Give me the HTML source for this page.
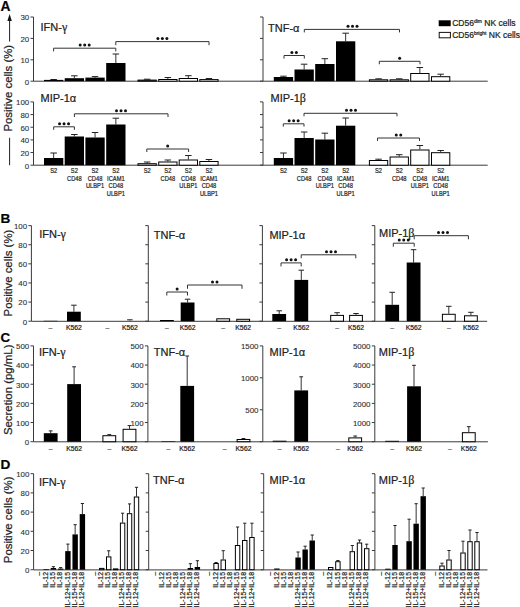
<!DOCTYPE html>
<html><head><meta charset="utf-8"><style>
html,body{margin:0;padding:0;background:#fff;}
body{width:520px;height:607px;overflow:hidden;}
svg{display:block;font-family:"Liberation Sans",sans-serif;}
text{stroke:#222;stroke-width:0.22px;}
</style></head><body>
<svg width="520" height="607" viewBox="0 0 520 607">
<rect width="520" height="607" fill="#fff"/>
<text x="0.40" y="10.50" font-size="13.8" text-anchor="start" fill="#000" font-weight="bold" >A</text>
<path d="M9.6 14 L7.4 21 L11.8 21 Z" fill="#111"/>
<line x1="9.60" y1="20.00" x2="9.60" y2="41.50" stroke="#222" stroke-width="1"/>
<line x1="9.60" y1="137.80" x2="9.60" y2="165.20" stroke="#222" stroke-width="1"/>
<text transform="translate(12.0,131.6) rotate(-90)" font-size="11.4" fill="#222">Positive cells (%)</text>
<line x1="33.50" y1="17.00" x2="33.50" y2="81.20" stroke="#3a3a3a" stroke-width="1"/>
<line x1="30.50" y1="17.00" x2="33.50" y2="17.00" stroke="#3a3a3a" stroke-width="1"/>
<text x="29.20" y="20.30" font-size="7.9" text-anchor="end" fill="#333" font-weight="normal" style="stroke-width:0.1px">30</text>
<line x1="30.50" y1="38.40" x2="33.50" y2="38.40" stroke="#3a3a3a" stroke-width="1"/>
<text x="29.20" y="41.70" font-size="7.9" text-anchor="end" fill="#333" font-weight="normal" style="stroke-width:0.1px">20</text>
<line x1="30.50" y1="59.80" x2="33.50" y2="59.80" stroke="#3a3a3a" stroke-width="1"/>
<text x="29.20" y="63.10" font-size="7.9" text-anchor="end" fill="#333" font-weight="normal" style="stroke-width:0.1px">10</text>
<line x1="30.50" y1="81.20" x2="33.50" y2="81.20" stroke="#3a3a3a" stroke-width="1"/>
<text x="29.20" y="84.50" font-size="7.9" text-anchor="end" fill="#333" font-weight="normal" style="stroke-width:0.1px">0</text>
<line x1="33.50" y1="101.90" x2="33.50" y2="165.20" stroke="#3a3a3a" stroke-width="1"/>
<line x1="30.50" y1="101.90" x2="33.50" y2="101.90" stroke="#3a3a3a" stroke-width="1"/>
<text x="29.20" y="105.20" font-size="7.9" text-anchor="end" fill="#333" font-weight="normal" style="stroke-width:0.1px">100</text>
<line x1="30.50" y1="114.56" x2="33.50" y2="114.56" stroke="#3a3a3a" stroke-width="1"/>
<text x="29.20" y="117.86" font-size="7.9" text-anchor="end" fill="#333" font-weight="normal" style="stroke-width:0.1px">80</text>
<line x1="30.50" y1="127.22" x2="33.50" y2="127.22" stroke="#3a3a3a" stroke-width="1"/>
<text x="29.20" y="130.52" font-size="7.9" text-anchor="end" fill="#333" font-weight="normal" style="stroke-width:0.1px">60</text>
<line x1="30.50" y1="139.88" x2="33.50" y2="139.88" stroke="#3a3a3a" stroke-width="1"/>
<text x="29.20" y="143.18" font-size="7.9" text-anchor="end" fill="#333" font-weight="normal" style="stroke-width:0.1px">40</text>
<line x1="30.50" y1="152.54" x2="33.50" y2="152.54" stroke="#3a3a3a" stroke-width="1"/>
<text x="29.20" y="155.84" font-size="7.9" text-anchor="end" fill="#333" font-weight="normal" style="stroke-width:0.1px">20</text>
<line x1="30.50" y1="165.20" x2="33.50" y2="165.20" stroke="#3a3a3a" stroke-width="1"/>
<text x="29.20" y="168.50" font-size="7.9" text-anchor="end" fill="#333" font-weight="normal" style="stroke-width:0.1px">0</text>
<line x1="263.00" y1="17.00" x2="263.00" y2="81.20" stroke="#3a3a3a" stroke-width="1"/>
<line x1="260.00" y1="17.00" x2="263.00" y2="17.00" stroke="#3a3a3a" stroke-width="1"/>
<line x1="260.00" y1="38.40" x2="263.00" y2="38.40" stroke="#3a3a3a" stroke-width="1"/>
<line x1="260.00" y1="59.80" x2="263.00" y2="59.80" stroke="#3a3a3a" stroke-width="1"/>
<line x1="260.00" y1="81.20" x2="263.00" y2="81.20" stroke="#3a3a3a" stroke-width="1"/>
<line x1="263.00" y1="101.90" x2="263.00" y2="165.20" stroke="#3a3a3a" stroke-width="1"/>
<line x1="260.00" y1="101.90" x2="263.00" y2="101.90" stroke="#3a3a3a" stroke-width="1"/>
<line x1="260.00" y1="114.56" x2="263.00" y2="114.56" stroke="#3a3a3a" stroke-width="1"/>
<line x1="260.00" y1="127.22" x2="263.00" y2="127.22" stroke="#3a3a3a" stroke-width="1"/>
<line x1="260.00" y1="139.88" x2="263.00" y2="139.88" stroke="#3a3a3a" stroke-width="1"/>
<line x1="260.00" y1="152.54" x2="263.00" y2="152.54" stroke="#3a3a3a" stroke-width="1"/>
<line x1="260.00" y1="165.20" x2="263.00" y2="165.20" stroke="#3a3a3a" stroke-width="1"/>
<line x1="33.50" y1="81.20" x2="487.70" y2="81.20" stroke="#3a3a3a" stroke-width="1"/>
<line x1="33.50" y1="165.20" x2="487.70" y2="165.20" stroke="#3a3a3a" stroke-width="1"/>
<text x="40.50" y="31.20" font-size="11" text-anchor="start" fill="#222" font-weight="normal" >IFN-<tspan font-family="Liberation Serif" font-size="12">γ</tspan></text>
<line x1="53.65" y1="79.90" x2="53.65" y2="79.50" stroke="#333" stroke-width="1"/>
<line x1="50.40" y1="79.50" x2="56.90" y2="79.50" stroke="#222" stroke-width="1"/>
<rect x="44.00" y="79.90" width="19.30" height="1.30" fill="#000"/>
<line x1="74.35" y1="78.20" x2="74.35" y2="75.80" stroke="#333" stroke-width="1"/>
<line x1="71.10" y1="75.80" x2="77.60" y2="75.80" stroke="#222" stroke-width="1"/>
<rect x="64.70" y="78.20" width="19.30" height="3.00" fill="#000"/>
<line x1="95.05" y1="77.60" x2="95.05" y2="76.60" stroke="#333" stroke-width="1"/>
<line x1="91.80" y1="76.60" x2="98.30" y2="76.60" stroke="#222" stroke-width="1"/>
<rect x="85.40" y="77.60" width="19.30" height="3.60" fill="#000"/>
<line x1="115.85" y1="63.00" x2="115.85" y2="54.00" stroke="#333" stroke-width="1"/>
<line x1="112.60" y1="54.00" x2="119.10" y2="54.00" stroke="#222" stroke-width="1"/>
<rect x="106.20" y="63.00" width="19.30" height="18.20" fill="#000"/>
<line x1="147.15" y1="79.60" x2="147.15" y2="79.20" stroke="#333" stroke-width="1"/>
<line x1="143.90" y1="79.20" x2="150.40" y2="79.20" stroke="#222" stroke-width="1"/>
<rect x="138.00" y="80.10" width="18.30" height="1.10" fill="#fff" stroke="#000" stroke-width="1"/>
<line x1="167.85" y1="79.00" x2="167.85" y2="77.50" stroke="#333" stroke-width="1"/>
<line x1="164.60" y1="77.50" x2="171.10" y2="77.50" stroke="#222" stroke-width="1"/>
<rect x="158.70" y="79.50" width="18.30" height="1.70" fill="#fff" stroke="#000" stroke-width="1"/>
<line x1="188.35" y1="78.00" x2="188.35" y2="75.70" stroke="#333" stroke-width="1"/>
<line x1="185.10" y1="75.70" x2="191.60" y2="75.70" stroke="#222" stroke-width="1"/>
<rect x="179.20" y="78.50" width="18.30" height="2.70" fill="#fff" stroke="#000" stroke-width="1"/>
<line x1="208.95" y1="79.10" x2="208.95" y2="78.50" stroke="#333" stroke-width="1"/>
<line x1="205.70" y1="78.50" x2="212.20" y2="78.50" stroke="#222" stroke-width="1"/>
<rect x="199.80" y="79.60" width="18.30" height="1.60" fill="#fff" stroke="#000" stroke-width="1"/>
<path d="M53.60 51.40V48.20H115.80V51.40" fill="none" stroke="#333" stroke-width="1"/>
<circle cx="80.20" cy="45.10" r="1.5" fill="#111"/>
<circle cx="84.70" cy="45.10" r="1.5" fill="#111"/>
<circle cx="89.20" cy="45.10" r="1.5" fill="#111"/>
<path d="M115.80 45.20V41.60H209.00V45.20" fill="none" stroke="#333" stroke-width="1"/>
<circle cx="157.90" cy="38.50" r="1.5" fill="#111"/>
<circle cx="162.40" cy="38.50" r="1.5" fill="#111"/>
<circle cx="166.90" cy="38.50" r="1.5" fill="#111"/>
<text x="268.00" y="31.60" font-size="11" text-anchor="start" fill="#222" font-weight="normal" >TNF-α</text>
<line x1="283.45" y1="77.00" x2="283.45" y2="76.20" stroke="#333" stroke-width="1"/>
<line x1="280.20" y1="76.20" x2="286.70" y2="76.20" stroke="#222" stroke-width="1"/>
<rect x="273.80" y="77.00" width="19.30" height="4.20" fill="#000"/>
<line x1="304.15" y1="69.50" x2="304.15" y2="64.20" stroke="#333" stroke-width="1"/>
<line x1="300.90" y1="64.20" x2="307.40" y2="64.20" stroke="#222" stroke-width="1"/>
<rect x="294.50" y="69.50" width="19.30" height="11.70" fill="#000"/>
<line x1="324.85" y1="64.00" x2="324.85" y2="58.70" stroke="#333" stroke-width="1"/>
<line x1="321.60" y1="58.70" x2="328.10" y2="58.70" stroke="#222" stroke-width="1"/>
<rect x="315.20" y="64.00" width="19.30" height="17.20" fill="#000"/>
<line x1="345.65" y1="41.30" x2="345.65" y2="33.20" stroke="#333" stroke-width="1"/>
<line x1="342.40" y1="33.20" x2="348.90" y2="33.20" stroke="#222" stroke-width="1"/>
<rect x="336.00" y="41.30" width="19.30" height="39.90" fill="#000"/>
<line x1="378.55" y1="79.30" x2="378.55" y2="78.80" stroke="#333" stroke-width="1"/>
<line x1="375.30" y1="78.80" x2="381.80" y2="78.80" stroke="#222" stroke-width="1"/>
<rect x="369.40" y="79.80" width="18.30" height="1.40" fill="#fff" stroke="#000" stroke-width="1"/>
<line x1="399.25" y1="79.30" x2="399.25" y2="78.80" stroke="#333" stroke-width="1"/>
<line x1="396.00" y1="78.80" x2="402.50" y2="78.80" stroke="#222" stroke-width="1"/>
<rect x="390.10" y="79.80" width="18.30" height="1.40" fill="#fff" stroke="#000" stroke-width="1"/>
<line x1="419.85" y1="73.00" x2="419.85" y2="67.50" stroke="#333" stroke-width="1"/>
<line x1="416.60" y1="67.50" x2="423.10" y2="67.50" stroke="#222" stroke-width="1"/>
<rect x="410.70" y="73.50" width="18.30" height="7.70" fill="#fff" stroke="#000" stroke-width="1"/>
<line x1="440.65" y1="76.20" x2="440.65" y2="74.20" stroke="#333" stroke-width="1"/>
<line x1="437.40" y1="74.20" x2="443.90" y2="74.20" stroke="#222" stroke-width="1"/>
<rect x="431.50" y="76.70" width="18.30" height="4.50" fill="#fff" stroke="#000" stroke-width="1"/>
<path d="M284.00 58.60V55.50H304.30V58.60" fill="none" stroke="#333" stroke-width="1"/>
<circle cx="291.90" cy="52.40" r="1.5" fill="#111"/>
<circle cx="296.40" cy="52.40" r="1.5" fill="#111"/>
<path d="M304.30 32.40V29.40H399.50V32.40" fill="none" stroke="#333" stroke-width="1"/>
<circle cx="348.00" cy="26.30" r="1.5" fill="#111"/>
<circle cx="352.50" cy="26.30" r="1.5" fill="#111"/>
<circle cx="357.00" cy="26.30" r="1.5" fill="#111"/>
<path d="M379.30 64.30V61.30H420.00V64.30" fill="none" stroke="#333" stroke-width="1"/>
<circle cx="399.65" cy="58.20" r="1.5" fill="#111"/>
<text x="40.50" y="101.60" font-size="11" text-anchor="start" fill="#222" font-weight="normal" >MIP-1α</text>
<line x1="53.65" y1="158.00" x2="53.65" y2="153.00" stroke="#333" stroke-width="1"/>
<line x1="50.40" y1="153.00" x2="56.90" y2="153.00" stroke="#222" stroke-width="1"/>
<rect x="44.00" y="158.00" width="19.30" height="7.20" fill="#000"/>
<line x1="74.35" y1="136.50" x2="74.35" y2="134.50" stroke="#333" stroke-width="1"/>
<line x1="71.10" y1="134.50" x2="77.60" y2="134.50" stroke="#222" stroke-width="1"/>
<rect x="64.70" y="136.50" width="19.30" height="28.70" fill="#000"/>
<line x1="95.05" y1="137.50" x2="95.05" y2="132.50" stroke="#333" stroke-width="1"/>
<line x1="91.80" y1="132.50" x2="98.30" y2="132.50" stroke="#222" stroke-width="1"/>
<rect x="85.40" y="137.50" width="19.30" height="27.70" fill="#000"/>
<line x1="115.85" y1="124.50" x2="115.85" y2="118.20" stroke="#333" stroke-width="1"/>
<line x1="112.60" y1="118.20" x2="119.10" y2="118.20" stroke="#222" stroke-width="1"/>
<rect x="106.20" y="124.50" width="19.30" height="40.70" fill="#000"/>
<line x1="147.15" y1="163.20" x2="147.15" y2="162.00" stroke="#333" stroke-width="1"/>
<line x1="143.90" y1="162.00" x2="150.40" y2="162.00" stroke="#222" stroke-width="1"/>
<rect x="138.00" y="163.70" width="18.30" height="1.50" fill="#fff" stroke="#000" stroke-width="1"/>
<line x1="167.85" y1="161.50" x2="167.85" y2="160.00" stroke="#333" stroke-width="1"/>
<line x1="164.60" y1="160.00" x2="171.10" y2="160.00" stroke="#222" stroke-width="1"/>
<rect x="158.70" y="162.00" width="18.30" height="3.20" fill="#fff" stroke="#000" stroke-width="1"/>
<line x1="188.35" y1="159.50" x2="188.35" y2="155.50" stroke="#333" stroke-width="1"/>
<line x1="185.10" y1="155.50" x2="191.60" y2="155.50" stroke="#222" stroke-width="1"/>
<rect x="179.20" y="160.00" width="18.30" height="5.20" fill="#fff" stroke="#000" stroke-width="1"/>
<line x1="208.95" y1="161.00" x2="208.95" y2="159.50" stroke="#333" stroke-width="1"/>
<line x1="205.70" y1="159.50" x2="212.20" y2="159.50" stroke="#222" stroke-width="1"/>
<rect x="199.80" y="161.50" width="18.30" height="3.70" fill="#fff" stroke="#000" stroke-width="1"/>
<path d="M53.70 129.80V126.80H74.40V129.80" fill="none" stroke="#333" stroke-width="1"/>
<circle cx="59.55" cy="123.70" r="1.5" fill="#111"/>
<circle cx="64.05" cy="123.70" r="1.5" fill="#111"/>
<circle cx="68.55" cy="123.70" r="1.5" fill="#111"/>
<path d="M74.40 117.00V113.80H168.00V117.00" fill="none" stroke="#333" stroke-width="1"/>
<circle cx="116.50" cy="110.70" r="1.5" fill="#111"/>
<circle cx="121.00" cy="110.70" r="1.5" fill="#111"/>
<circle cx="125.50" cy="110.70" r="1.5" fill="#111"/>
<path d="M146.80 152.00V149.00H188.60V152.00" fill="none" stroke="#333" stroke-width="1"/>
<circle cx="167.70" cy="145.90" r="1.5" fill="#111"/>
<text x="270.50" y="101.60" font-size="11" text-anchor="start" fill="#222" font-weight="normal" >MIP-1<tspan font-family="Liberation Serif" font-size="12">β</tspan></text>
<line x1="283.45" y1="158.00" x2="283.45" y2="153.00" stroke="#333" stroke-width="1"/>
<line x1="280.20" y1="153.00" x2="286.70" y2="153.00" stroke="#222" stroke-width="1"/>
<rect x="273.80" y="158.00" width="19.30" height="7.20" fill="#000"/>
<line x1="304.15" y1="138.00" x2="304.15" y2="132.00" stroke="#333" stroke-width="1"/>
<line x1="300.90" y1="132.00" x2="307.40" y2="132.00" stroke="#222" stroke-width="1"/>
<rect x="294.50" y="138.00" width="19.30" height="27.20" fill="#000"/>
<line x1="324.85" y1="139.50" x2="324.85" y2="133.20" stroke="#333" stroke-width="1"/>
<line x1="321.60" y1="133.20" x2="328.10" y2="133.20" stroke="#222" stroke-width="1"/>
<rect x="315.20" y="139.50" width="19.30" height="25.70" fill="#000"/>
<line x1="345.65" y1="125.70" x2="345.65" y2="118.00" stroke="#333" stroke-width="1"/>
<line x1="342.40" y1="118.00" x2="348.90" y2="118.00" stroke="#222" stroke-width="1"/>
<rect x="336.00" y="125.70" width="19.30" height="39.50" fill="#000"/>
<line x1="378.55" y1="160.00" x2="378.55" y2="159.20" stroke="#333" stroke-width="1"/>
<line x1="375.30" y1="159.20" x2="381.80" y2="159.20" stroke="#222" stroke-width="1"/>
<rect x="369.40" y="160.50" width="18.30" height="4.70" fill="#fff" stroke="#000" stroke-width="1"/>
<line x1="399.25" y1="156.50" x2="399.25" y2="154.70" stroke="#333" stroke-width="1"/>
<line x1="396.00" y1="154.70" x2="402.50" y2="154.70" stroke="#222" stroke-width="1"/>
<rect x="390.10" y="157.00" width="18.30" height="8.20" fill="#fff" stroke="#000" stroke-width="1"/>
<line x1="419.85" y1="149.50" x2="419.85" y2="145.50" stroke="#333" stroke-width="1"/>
<line x1="416.60" y1="145.50" x2="423.10" y2="145.50" stroke="#222" stroke-width="1"/>
<rect x="410.70" y="150.00" width="18.30" height="15.20" fill="#fff" stroke="#000" stroke-width="1"/>
<line x1="440.65" y1="152.20" x2="440.65" y2="150.50" stroke="#333" stroke-width="1"/>
<line x1="437.40" y1="150.50" x2="443.90" y2="150.50" stroke="#222" stroke-width="1"/>
<rect x="431.50" y="152.70" width="18.30" height="12.50" fill="#fff" stroke="#000" stroke-width="1"/>
<path d="M283.30 126.60V123.80H304.00V126.60" fill="none" stroke="#333" stroke-width="1"/>
<circle cx="289.15" cy="120.70" r="1.5" fill="#111"/>
<circle cx="293.65" cy="120.70" r="1.5" fill="#111"/>
<circle cx="298.15" cy="120.70" r="1.5" fill="#111"/>
<path d="M304.00 116.30V113.30H397.00V116.30" fill="none" stroke="#333" stroke-width="1"/>
<circle cx="346.50" cy="110.20" r="1.5" fill="#111"/>
<circle cx="351.00" cy="110.20" r="1.5" fill="#111"/>
<circle cx="355.50" cy="110.20" r="1.5" fill="#111"/>
<path d="M377.50 140.90V138.00H419.50V140.90" fill="none" stroke="#333" stroke-width="1"/>
<circle cx="396.25" cy="134.90" r="1.5" fill="#111"/>
<circle cx="400.75" cy="134.90" r="1.5" fill="#111"/>
<text transform="translate(53.65,172.70) scale(0.83,1)" font-size="6.9" text-anchor="middle" fill="#222">S2</text>
<text transform="translate(74.35,172.70) scale(0.83,1)" font-size="6.9" text-anchor="middle" fill="#222">S2</text>
<text transform="translate(74.35,180.50) scale(0.83,1)" font-size="6.9" text-anchor="middle" fill="#222">CD48</text>
<text transform="translate(95.05,172.70) scale(0.83,1)" font-size="6.9" text-anchor="middle" fill="#222">S2</text>
<text transform="translate(95.05,180.50) scale(0.83,1)" font-size="6.9" text-anchor="middle" fill="#222">CD48</text>
<text transform="translate(95.05,188.30) scale(0.83,1)" font-size="6.9" text-anchor="middle" fill="#222">ULBP1</text>
<text transform="translate(115.85,172.70) scale(0.83,1)" font-size="6.9" text-anchor="middle" fill="#222">S2</text>
<text transform="translate(115.85,180.50) scale(0.83,1)" font-size="6.9" text-anchor="middle" fill="#222">ICAM1</text>
<text transform="translate(115.85,188.30) scale(0.83,1)" font-size="6.9" text-anchor="middle" fill="#222">CD48</text>
<text transform="translate(115.85,196.10) scale(0.83,1)" font-size="6.9" text-anchor="middle" fill="#222">ULBP1</text>
<text transform="translate(147.15,172.70) scale(0.83,1)" font-size="6.9" text-anchor="middle" fill="#222">S2</text>
<text transform="translate(167.85,172.70) scale(0.83,1)" font-size="6.9" text-anchor="middle" fill="#222">S2</text>
<text transform="translate(167.85,180.50) scale(0.83,1)" font-size="6.9" text-anchor="middle" fill="#222">CD48</text>
<text transform="translate(188.35,172.70) scale(0.83,1)" font-size="6.9" text-anchor="middle" fill="#222">S2</text>
<text transform="translate(188.35,180.50) scale(0.83,1)" font-size="6.9" text-anchor="middle" fill="#222">CD48</text>
<text transform="translate(188.35,188.30) scale(0.83,1)" font-size="6.9" text-anchor="middle" fill="#222">ULBP1</text>
<text transform="translate(208.95,172.70) scale(0.83,1)" font-size="6.9" text-anchor="middle" fill="#222">S2</text>
<text transform="translate(208.95,180.50) scale(0.83,1)" font-size="6.9" text-anchor="middle" fill="#222">ICAM1</text>
<text transform="translate(208.95,188.30) scale(0.83,1)" font-size="6.9" text-anchor="middle" fill="#222">CD48</text>
<text transform="translate(208.95,196.10) scale(0.83,1)" font-size="6.9" text-anchor="middle" fill="#222">ULBP1</text>
<text transform="translate(283.45,172.70) scale(0.83,1)" font-size="6.9" text-anchor="middle" fill="#222">S2</text>
<text transform="translate(304.15,172.70) scale(0.83,1)" font-size="6.9" text-anchor="middle" fill="#222">S2</text>
<text transform="translate(304.15,180.50) scale(0.83,1)" font-size="6.9" text-anchor="middle" fill="#222">CD48</text>
<text transform="translate(324.85,172.70) scale(0.83,1)" font-size="6.9" text-anchor="middle" fill="#222">S2</text>
<text transform="translate(324.85,180.50) scale(0.83,1)" font-size="6.9" text-anchor="middle" fill="#222">CD48</text>
<text transform="translate(324.85,188.30) scale(0.83,1)" font-size="6.9" text-anchor="middle" fill="#222">ULBP1</text>
<text transform="translate(345.65,172.70) scale(0.83,1)" font-size="6.9" text-anchor="middle" fill="#222">S2</text>
<text transform="translate(345.65,180.50) scale(0.83,1)" font-size="6.9" text-anchor="middle" fill="#222">ICAM1</text>
<text transform="translate(345.65,188.30) scale(0.83,1)" font-size="6.9" text-anchor="middle" fill="#222">CD48</text>
<text transform="translate(345.65,196.10) scale(0.83,1)" font-size="6.9" text-anchor="middle" fill="#222">ULBP1</text>
<text transform="translate(378.55,172.70) scale(0.83,1)" font-size="6.9" text-anchor="middle" fill="#222">S2</text>
<text transform="translate(399.25,172.70) scale(0.83,1)" font-size="6.9" text-anchor="middle" fill="#222">S2</text>
<text transform="translate(399.25,180.50) scale(0.83,1)" font-size="6.9" text-anchor="middle" fill="#222">CD48</text>
<text transform="translate(419.85,172.70) scale(0.83,1)" font-size="6.9" text-anchor="middle" fill="#222">S2</text>
<text transform="translate(419.85,180.50) scale(0.83,1)" font-size="6.9" text-anchor="middle" fill="#222">CD48</text>
<text transform="translate(419.85,188.30) scale(0.83,1)" font-size="6.9" text-anchor="middle" fill="#222">ULBP1</text>
<text transform="translate(440.65,172.70) scale(0.83,1)" font-size="6.9" text-anchor="middle" fill="#222">S2</text>
<text transform="translate(440.65,180.50) scale(0.83,1)" font-size="6.9" text-anchor="middle" fill="#222">ICAM1</text>
<text transform="translate(440.65,188.30) scale(0.83,1)" font-size="6.9" text-anchor="middle" fill="#222">CD48</text>
<text transform="translate(440.65,196.10) scale(0.83,1)" font-size="6.9" text-anchor="middle" fill="#222">ULBP1</text>
<rect x="438.7" y="20.3" width="12" height="5.9" fill="#000"/>
<rect x="439.2" y="32.4" width="11.2" height="5.4" fill="#fff" stroke="#111" stroke-width="1"/>
<text x="452.20" y="26.30" font-size="8.5" text-anchor="start" fill="#222" font-weight="normal" >CD56<tspan font-size="5" dy="-3.3">dim</tspan><tspan dy="3.3"> NK cells</tspan></text>
<text x="452.20" y="38.30" font-size="8.5" text-anchor="start" fill="#222" font-weight="normal" >CD56<tspan font-size="5" dy="-3.3">bright</tspan><tspan dy="3.3"> NK cells</tspan></text>
<text x="0.60" y="222.60" font-size="13.6" text-anchor="start" fill="#000" font-weight="bold" >B</text>
<text transform="translate(12.0,316.4) rotate(-90)" font-size="11.4" fill="#222">Positive cells (%)</text>
<line x1="31.40" y1="225.60" x2="31.40" y2="321.20" stroke="#3a3a3a" stroke-width="1"/>
<line x1="28.40" y1="225.60" x2="31.40" y2="225.60" stroke="#3a3a3a" stroke-width="1"/>
<text x="27.10" y="228.90" font-size="7.9" text-anchor="end" fill="#333" font-weight="normal" style="stroke-width:0.1px">100</text>
<line x1="28.40" y1="244.72" x2="31.40" y2="244.72" stroke="#3a3a3a" stroke-width="1"/>
<text x="27.10" y="248.02" font-size="7.9" text-anchor="end" fill="#333" font-weight="normal" style="stroke-width:0.1px">80</text>
<line x1="28.40" y1="263.84" x2="31.40" y2="263.84" stroke="#3a3a3a" stroke-width="1"/>
<text x="27.10" y="267.14" font-size="7.9" text-anchor="end" fill="#333" font-weight="normal" style="stroke-width:0.1px">60</text>
<line x1="28.40" y1="282.96" x2="31.40" y2="282.96" stroke="#3a3a3a" stroke-width="1"/>
<text x="27.10" y="286.26" font-size="7.9" text-anchor="end" fill="#333" font-weight="normal" style="stroke-width:0.1px">40</text>
<line x1="28.40" y1="302.08" x2="31.40" y2="302.08" stroke="#3a3a3a" stroke-width="1"/>
<text x="27.10" y="305.38" font-size="7.9" text-anchor="end" fill="#333" font-weight="normal" style="stroke-width:0.1px">20</text>
<line x1="28.40" y1="321.20" x2="31.40" y2="321.20" stroke="#3a3a3a" stroke-width="1"/>
<text x="27.10" y="324.50" font-size="7.9" text-anchor="end" fill="#333" font-weight="normal" style="stroke-width:0.1px">0</text>
<line x1="148.30" y1="225.60" x2="148.30" y2="321.20" stroke="#3a3a3a" stroke-width="1"/>
<line x1="145.30" y1="225.60" x2="148.30" y2="225.60" stroke="#3a3a3a" stroke-width="1"/>
<line x1="145.30" y1="244.72" x2="148.30" y2="244.72" stroke="#3a3a3a" stroke-width="1"/>
<line x1="145.30" y1="263.84" x2="148.30" y2="263.84" stroke="#3a3a3a" stroke-width="1"/>
<line x1="145.30" y1="282.96" x2="148.30" y2="282.96" stroke="#3a3a3a" stroke-width="1"/>
<line x1="145.30" y1="302.08" x2="148.30" y2="302.08" stroke="#3a3a3a" stroke-width="1"/>
<line x1="145.30" y1="321.20" x2="148.30" y2="321.20" stroke="#3a3a3a" stroke-width="1"/>
<line x1="262.40" y1="225.60" x2="262.40" y2="321.20" stroke="#3a3a3a" stroke-width="1"/>
<line x1="259.40" y1="225.60" x2="262.40" y2="225.60" stroke="#3a3a3a" stroke-width="1"/>
<line x1="259.40" y1="244.72" x2="262.40" y2="244.72" stroke="#3a3a3a" stroke-width="1"/>
<line x1="259.40" y1="263.84" x2="262.40" y2="263.84" stroke="#3a3a3a" stroke-width="1"/>
<line x1="259.40" y1="282.96" x2="262.40" y2="282.96" stroke="#3a3a3a" stroke-width="1"/>
<line x1="259.40" y1="302.08" x2="262.40" y2="302.08" stroke="#3a3a3a" stroke-width="1"/>
<line x1="259.40" y1="321.20" x2="262.40" y2="321.20" stroke="#3a3a3a" stroke-width="1"/>
<line x1="374.80" y1="225.60" x2="374.80" y2="321.20" stroke="#3a3a3a" stroke-width="1"/>
<line x1="371.80" y1="225.60" x2="374.80" y2="225.60" stroke="#3a3a3a" stroke-width="1"/>
<line x1="371.80" y1="244.72" x2="374.80" y2="244.72" stroke="#3a3a3a" stroke-width="1"/>
<line x1="371.80" y1="263.84" x2="374.80" y2="263.84" stroke="#3a3a3a" stroke-width="1"/>
<line x1="371.80" y1="282.96" x2="374.80" y2="282.96" stroke="#3a3a3a" stroke-width="1"/>
<line x1="371.80" y1="302.08" x2="374.80" y2="302.08" stroke="#3a3a3a" stroke-width="1"/>
<line x1="371.80" y1="321.20" x2="374.80" y2="321.20" stroke="#3a3a3a" stroke-width="1"/>
<line x1="31.40" y1="321.30" x2="487.20" y2="321.30" stroke="#3a3a3a" stroke-width="1"/>
<text x="39.20" y="238.20" font-size="11" text-anchor="start" fill="#222" font-weight="normal" >IFN-<tspan font-family="Liberation Serif" font-size="12">γ</tspan></text>
<rect x="43.60" y="320.80" width="13.80" height="0.40" fill="#000"/>
<line x1="73.90" y1="311.70" x2="73.90" y2="305.20" stroke="#333" stroke-width="1"/>
<line x1="71.15" y1="305.20" x2="76.65" y2="305.20" stroke="#222" stroke-width="1"/>
<rect x="67.00" y="311.70" width="13.80" height="9.50" fill="#000"/>
<line x1="129.90" y1="320.40" x2="129.90" y2="319.80" stroke="#333" stroke-width="1"/>
<line x1="127.15" y1="319.80" x2="132.65" y2="319.80" stroke="#222" stroke-width="1"/>
<text x="50.50" y="329.60" font-size="6.8" text-anchor="middle" fill="#222" font-weight="normal" >–</text>
<text x="73.90" y="329.60" font-size="6.8" text-anchor="middle" fill="#222" font-weight="normal" >K562</text>
<text x="107.50" y="329.60" font-size="6.8" text-anchor="middle" fill="#222" font-weight="normal" >–</text>
<text x="129.90" y="329.60" font-size="6.8" text-anchor="middle" fill="#222" font-weight="normal" >K562</text>
<text x="153.80" y="239.00" font-size="11" text-anchor="start" fill="#222" font-weight="normal" >TNF-α</text>
<rect x="160.00" y="320.00" width="13.80" height="1.20" fill="#000"/>
<line x1="187.60" y1="302.50" x2="187.60" y2="299.20" stroke="#333" stroke-width="1"/>
<line x1="184.85" y1="299.20" x2="190.35" y2="299.20" stroke="#222" stroke-width="1"/>
<rect x="180.70" y="302.50" width="13.80" height="18.70" fill="#000"/>
<rect x="216.80" y="318.80" width="12.80" height="2.40" fill="#fff" stroke="#000" stroke-width="1"/>
<rect x="236.80" y="319.30" width="12.80" height="1.90" fill="#fff" stroke="#000" stroke-width="1"/>
<text x="166.90" y="329.60" font-size="6.8" text-anchor="middle" fill="#222" font-weight="normal" >–</text>
<text x="187.60" y="329.60" font-size="6.8" text-anchor="middle" fill="#222" font-weight="normal" >K562</text>
<text x="223.20" y="329.60" font-size="6.8" text-anchor="middle" fill="#222" font-weight="normal" >–</text>
<text x="243.20" y="329.60" font-size="6.8" text-anchor="middle" fill="#222" font-weight="normal" >K562</text>
<path d="M166.80 295.50V292.00H187.50V295.50" fill="none" stroke="#333" stroke-width="1"/>
<circle cx="177.15" cy="288.90" r="1.5" fill="#111"/>
<path d="M187.50 288.80V285.00H242.00V288.80" fill="none" stroke="#333" stroke-width="1"/>
<circle cx="212.50" cy="281.90" r="1.5" fill="#111"/>
<circle cx="217.00" cy="281.90" r="1.5" fill="#111"/>
<text x="269.40" y="239.30" font-size="11" text-anchor="start" fill="#222" font-weight="normal" >MIP-1α</text>
<line x1="279.20" y1="314.00" x2="279.20" y2="310.80" stroke="#333" stroke-width="1"/>
<line x1="276.45" y1="310.80" x2="281.95" y2="310.80" stroke="#222" stroke-width="1"/>
<rect x="272.30" y="314.00" width="13.80" height="7.20" fill="#000"/>
<line x1="301.30" y1="279.90" x2="301.30" y2="270.20" stroke="#333" stroke-width="1"/>
<line x1="298.55" y1="270.20" x2="304.05" y2="270.20" stroke="#222" stroke-width="1"/>
<rect x="294.40" y="279.90" width="13.80" height="41.30" fill="#000"/>
<line x1="337.10" y1="314.90" x2="337.10" y2="312.70" stroke="#333" stroke-width="1"/>
<line x1="334.35" y1="312.70" x2="339.85" y2="312.70" stroke="#222" stroke-width="1"/>
<rect x="330.70" y="315.40" width="12.80" height="5.80" fill="#fff" stroke="#000" stroke-width="1"/>
<line x1="356.00" y1="314.90" x2="356.00" y2="313.50" stroke="#333" stroke-width="1"/>
<line x1="353.25" y1="313.50" x2="358.75" y2="313.50" stroke="#222" stroke-width="1"/>
<rect x="349.60" y="315.40" width="12.80" height="5.80" fill="#fff" stroke="#000" stroke-width="1"/>
<text x="279.20" y="329.60" font-size="6.8" text-anchor="middle" fill="#222" font-weight="normal" >–</text>
<text x="301.30" y="329.60" font-size="6.8" text-anchor="middle" fill="#222" font-weight="normal" >K562</text>
<text x="337.10" y="329.60" font-size="6.8" text-anchor="middle" fill="#222" font-weight="normal" >–</text>
<text x="356.00" y="329.60" font-size="6.8" text-anchor="middle" fill="#222" font-weight="normal" >K562</text>
<path d="M281.00 266.40V262.90H301.20V266.40" fill="none" stroke="#333" stroke-width="1"/>
<circle cx="286.60" cy="259.80" r="1.5" fill="#111"/>
<circle cx="291.10" cy="259.80" r="1.5" fill="#111"/>
<circle cx="295.60" cy="259.80" r="1.5" fill="#111"/>
<path d="M301.20 258.30V254.80H355.80V258.30" fill="none" stroke="#333" stroke-width="1"/>
<circle cx="326.50" cy="251.70" r="1.5" fill="#111"/>
<circle cx="331.00" cy="251.70" r="1.5" fill="#111"/>
<circle cx="335.50" cy="251.70" r="1.5" fill="#111"/>
<text x="379.00" y="236.50" font-size="11" text-anchor="start" fill="#222" font-weight="normal" >MIP-1<tspan font-family="Liberation Serif" font-size="12">β</tspan></text>
<line x1="392.20" y1="304.80" x2="392.20" y2="292.30" stroke="#333" stroke-width="1"/>
<line x1="389.45" y1="292.30" x2="394.95" y2="292.30" stroke="#222" stroke-width="1"/>
<rect x="385.30" y="304.80" width="13.80" height="16.40" fill="#000"/>
<line x1="413.60" y1="262.50" x2="413.60" y2="249.70" stroke="#333" stroke-width="1"/>
<line x1="410.85" y1="249.70" x2="416.35" y2="249.70" stroke="#222" stroke-width="1"/>
<rect x="406.70" y="262.50" width="13.80" height="58.70" fill="#000"/>
<line x1="448.80" y1="313.80" x2="448.80" y2="306.30" stroke="#333" stroke-width="1"/>
<line x1="446.05" y1="306.30" x2="451.55" y2="306.30" stroke="#222" stroke-width="1"/>
<rect x="442.40" y="314.30" width="12.80" height="6.90" fill="#fff" stroke="#000" stroke-width="1"/>
<line x1="470.90" y1="315.30" x2="470.90" y2="312.30" stroke="#333" stroke-width="1"/>
<line x1="468.15" y1="312.30" x2="473.65" y2="312.30" stroke="#222" stroke-width="1"/>
<rect x="464.50" y="315.80" width="12.80" height="5.40" fill="#fff" stroke="#000" stroke-width="1"/>
<text x="392.20" y="329.60" font-size="6.8" text-anchor="middle" fill="#222" font-weight="normal" >–</text>
<text x="413.60" y="329.60" font-size="6.8" text-anchor="middle" fill="#222" font-weight="normal" >K562</text>
<text x="448.80" y="329.60" font-size="6.8" text-anchor="middle" fill="#222" font-weight="normal" >–</text>
<text x="470.90" y="329.60" font-size="6.8" text-anchor="middle" fill="#222" font-weight="normal" >K562</text>
<path d="M393.30 246.70V243.20H414.20V246.70" fill="none" stroke="#333" stroke-width="1"/>
<circle cx="399.25" cy="240.10" r="1.5" fill="#111"/>
<circle cx="403.75" cy="240.10" r="1.5" fill="#111"/>
<circle cx="408.25" cy="240.10" r="1.5" fill="#111"/>
<path d="M414.20 239.30V235.70H468.40V239.30" fill="none" stroke="#333" stroke-width="1"/>
<circle cx="438.50" cy="232.60" r="1.5" fill="#111"/>
<circle cx="443.00" cy="232.60" r="1.5" fill="#111"/>
<circle cx="447.50" cy="232.60" r="1.5" fill="#111"/>
<text x="0.60" y="341.70" font-size="13.4" text-anchor="start" fill="#000" font-weight="bold" >C</text>
<text transform="translate(12.0,435.1) rotate(-90)" font-size="11.4" fill="#222">Secretion (pg/mL)</text>
<line x1="33.50" y1="345.90" x2="33.50" y2="441.70" stroke="#3a3a3a" stroke-width="1"/>
<line x1="30.50" y1="345.90" x2="33.50" y2="345.90" stroke="#3a3a3a" stroke-width="1"/>
<text x="29.20" y="349.20" font-size="7.9" text-anchor="end" fill="#333" font-weight="normal" style="stroke-width:0.1px">500</text>
<line x1="30.50" y1="365.06" x2="33.50" y2="365.06" stroke="#3a3a3a" stroke-width="1"/>
<text x="29.20" y="368.36" font-size="7.9" text-anchor="end" fill="#333" font-weight="normal" style="stroke-width:0.1px">400</text>
<line x1="30.50" y1="384.22" x2="33.50" y2="384.22" stroke="#3a3a3a" stroke-width="1"/>
<text x="29.20" y="387.52" font-size="7.9" text-anchor="end" fill="#333" font-weight="normal" style="stroke-width:0.1px">300</text>
<line x1="30.50" y1="403.38" x2="33.50" y2="403.38" stroke="#3a3a3a" stroke-width="1"/>
<text x="29.20" y="406.68" font-size="7.9" text-anchor="end" fill="#333" font-weight="normal" style="stroke-width:0.1px">200</text>
<line x1="30.50" y1="422.54" x2="33.50" y2="422.54" stroke="#3a3a3a" stroke-width="1"/>
<text x="29.20" y="425.84" font-size="7.9" text-anchor="end" fill="#333" font-weight="normal" style="stroke-width:0.1px">100</text>
<line x1="30.50" y1="441.70" x2="33.50" y2="441.70" stroke="#3a3a3a" stroke-width="1"/>
<text x="29.20" y="445.00" font-size="7.9" text-anchor="end" fill="#333" font-weight="normal" style="stroke-width:0.1px">0</text>
<line x1="147.90" y1="345.90" x2="147.90" y2="441.70" stroke="#3a3a3a" stroke-width="1"/>
<line x1="144.90" y1="345.90" x2="147.90" y2="345.90" stroke="#3a3a3a" stroke-width="1"/>
<text x="143.60" y="349.20" font-size="7.9" text-anchor="end" fill="#333" font-weight="normal" style="stroke-width:0.1px">500</text>
<line x1="144.90" y1="365.06" x2="147.90" y2="365.06" stroke="#3a3a3a" stroke-width="1"/>
<text x="143.60" y="368.36" font-size="7.9" text-anchor="end" fill="#333" font-weight="normal" style="stroke-width:0.1px">400</text>
<line x1="144.90" y1="384.22" x2="147.90" y2="384.22" stroke="#3a3a3a" stroke-width="1"/>
<text x="143.60" y="387.52" font-size="7.9" text-anchor="end" fill="#333" font-weight="normal" style="stroke-width:0.1px">300</text>
<line x1="144.90" y1="403.38" x2="147.90" y2="403.38" stroke="#3a3a3a" stroke-width="1"/>
<text x="143.60" y="406.68" font-size="7.9" text-anchor="end" fill="#333" font-weight="normal" style="stroke-width:0.1px">200</text>
<line x1="144.90" y1="422.54" x2="147.90" y2="422.54" stroke="#3a3a3a" stroke-width="1"/>
<text x="143.60" y="425.84" font-size="7.9" text-anchor="end" fill="#333" font-weight="normal" style="stroke-width:0.1px">100</text>
<line x1="144.90" y1="441.70" x2="147.90" y2="441.70" stroke="#3a3a3a" stroke-width="1"/>
<text x="143.60" y="445.00" font-size="7.9" text-anchor="end" fill="#333" font-weight="normal" style="stroke-width:0.1px"></text>
<line x1="262.80" y1="345.90" x2="262.80" y2="441.70" stroke="#3a3a3a" stroke-width="1"/>
<line x1="259.80" y1="345.90" x2="262.80" y2="345.90" stroke="#3a3a3a" stroke-width="1"/>
<text x="258.50" y="349.20" font-size="7.9" text-anchor="end" fill="#333" font-weight="normal" style="stroke-width:0.1px">1500</text>
<line x1="259.80" y1="377.83" x2="262.80" y2="377.83" stroke="#3a3a3a" stroke-width="1"/>
<text x="258.50" y="381.13" font-size="7.9" text-anchor="end" fill="#333" font-weight="normal" style="stroke-width:0.1px">1000</text>
<line x1="259.80" y1="409.77" x2="262.80" y2="409.77" stroke="#3a3a3a" stroke-width="1"/>
<text x="258.50" y="413.07" font-size="7.9" text-anchor="end" fill="#333" font-weight="normal" style="stroke-width:0.1px">500</text>
<line x1="259.80" y1="441.70" x2="262.80" y2="441.70" stroke="#3a3a3a" stroke-width="1"/>
<text x="258.50" y="445.00" font-size="7.9" text-anchor="end" fill="#333" font-weight="normal" style="stroke-width:0.1px"></text>
<line x1="374.80" y1="345.90" x2="374.80" y2="441.70" stroke="#3a3a3a" stroke-width="1"/>
<line x1="371.80" y1="345.90" x2="374.80" y2="345.90" stroke="#3a3a3a" stroke-width="1"/>
<text x="370.50" y="349.20" font-size="7.9" text-anchor="end" fill="#333" font-weight="normal" style="stroke-width:0.1px">5000</text>
<line x1="371.80" y1="365.06" x2="374.80" y2="365.06" stroke="#3a3a3a" stroke-width="1"/>
<text x="370.50" y="368.36" font-size="7.9" text-anchor="end" fill="#333" font-weight="normal" style="stroke-width:0.1px">4000</text>
<line x1="371.80" y1="384.22" x2="374.80" y2="384.22" stroke="#3a3a3a" stroke-width="1"/>
<text x="370.50" y="387.52" font-size="7.9" text-anchor="end" fill="#333" font-weight="normal" style="stroke-width:0.1px">3000</text>
<line x1="371.80" y1="403.38" x2="374.80" y2="403.38" stroke="#3a3a3a" stroke-width="1"/>
<text x="370.50" y="406.68" font-size="7.9" text-anchor="end" fill="#333" font-weight="normal" style="stroke-width:0.1px">2000</text>
<line x1="371.80" y1="422.54" x2="374.80" y2="422.54" stroke="#3a3a3a" stroke-width="1"/>
<text x="370.50" y="425.84" font-size="7.9" text-anchor="end" fill="#333" font-weight="normal" style="stroke-width:0.1px">1000</text>
<line x1="371.80" y1="441.70" x2="374.80" y2="441.70" stroke="#3a3a3a" stroke-width="1"/>
<text x="370.50" y="445.00" font-size="7.9" text-anchor="end" fill="#333" font-weight="normal" style="stroke-width:0.1px"></text>
<line x1="33.50" y1="441.80" x2="487.90" y2="441.80" stroke="#3a3a3a" stroke-width="1"/>
<text x="38.90" y="356.30" font-size="11" text-anchor="start" fill="#222" font-weight="normal" >IFN-<tspan font-family="Liberation Serif" font-size="12">γ</tspan></text>
<line x1="50.70" y1="433.20" x2="50.70" y2="430.90" stroke="#333" stroke-width="1"/>
<line x1="48.80" y1="430.90" x2="52.60" y2="430.90" stroke="#222" stroke-width="1"/>
<rect x="43.80" y="433.20" width="13.80" height="8.50" fill="#000"/>
<line x1="74.10" y1="384.10" x2="74.10" y2="366.80" stroke="#333" stroke-width="1"/>
<line x1="72.20" y1="366.80" x2="76.00" y2="366.80" stroke="#222" stroke-width="1"/>
<rect x="67.20" y="384.10" width="13.80" height="57.60" fill="#000"/>
<line x1="109.30" y1="435.20" x2="109.30" y2="434.60" stroke="#333" stroke-width="1"/>
<line x1="107.40" y1="434.60" x2="111.20" y2="434.60" stroke="#222" stroke-width="1"/>
<rect x="102.90" y="435.70" width="12.80" height="6.00" fill="#fff" stroke="#000" stroke-width="1"/>
<line x1="129.50" y1="428.80" x2="129.50" y2="425.60" stroke="#333" stroke-width="1"/>
<line x1="127.60" y1="425.60" x2="131.40" y2="425.60" stroke="#222" stroke-width="1"/>
<rect x="123.10" y="429.30" width="12.80" height="12.40" fill="#fff" stroke="#000" stroke-width="1"/>
<text x="50.70" y="450.90" font-size="6.8" text-anchor="middle" fill="#222" font-weight="normal" >–</text>
<text x="74.10" y="450.90" font-size="6.8" text-anchor="middle" fill="#222" font-weight="normal" >K562</text>
<text x="109.30" y="450.90" font-size="6.8" text-anchor="middle" fill="#222" font-weight="normal" >–</text>
<text x="129.50" y="450.90" font-size="6.8" text-anchor="middle" fill="#222" font-weight="normal" >K562</text>
<rect x="161.40" y="441.20" width="13.80" height="0.50" fill="#000"/>
<line x1="187.20" y1="385.90" x2="187.20" y2="356.00" stroke="#333" stroke-width="1"/>
<line x1="185.30" y1="356.00" x2="189.10" y2="356.00" stroke="#222" stroke-width="1"/>
<rect x="180.30" y="385.90" width="13.80" height="55.80" fill="#000"/>
<line x1="243.50" y1="439.00" x2="243.50" y2="438.50" stroke="#333" stroke-width="1"/>
<line x1="241.60" y1="438.50" x2="245.40" y2="438.50" stroke="#222" stroke-width="1"/>
<rect x="237.10" y="439.50" width="12.80" height="2.20" fill="#fff" stroke="#000" stroke-width="1"/>
<text x="168.30" y="450.90" font-size="6.8" text-anchor="middle" fill="#222" font-weight="normal" >–</text>
<text x="187.20" y="450.90" font-size="6.8" text-anchor="middle" fill="#222" font-weight="normal" >K562</text>
<text x="224.60" y="450.90" font-size="6.8" text-anchor="middle" fill="#222" font-weight="normal" >–</text>
<text x="243.50" y="450.90" font-size="6.8" text-anchor="middle" fill="#222" font-weight="normal" >K562</text>
<text x="153.80" y="356.30" font-size="11" text-anchor="start" fill="#222" font-weight="normal" >TNF-α</text>
<rect x="272.70" y="440.70" width="13.80" height="1.00" fill="#000"/>
<line x1="301.20" y1="390.40" x2="301.20" y2="376.80" stroke="#333" stroke-width="1"/>
<line x1="299.30" y1="376.80" x2="303.10" y2="376.80" stroke="#222" stroke-width="1"/>
<rect x="294.30" y="390.40" width="13.80" height="51.30" fill="#000"/>
<line x1="355.20" y1="437.40" x2="355.20" y2="436.00" stroke="#333" stroke-width="1"/>
<line x1="353.30" y1="436.00" x2="357.10" y2="436.00" stroke="#222" stroke-width="1"/>
<rect x="348.80" y="437.90" width="12.80" height="3.80" fill="#fff" stroke="#000" stroke-width="1"/>
<text x="279.60" y="450.90" font-size="6.8" text-anchor="middle" fill="#222" font-weight="normal" >–</text>
<text x="301.20" y="450.90" font-size="6.8" text-anchor="middle" fill="#222" font-weight="normal" >K562</text>
<text x="337.90" y="450.90" font-size="6.8" text-anchor="middle" fill="#222" font-weight="normal" >–</text>
<text x="355.20" y="450.90" font-size="6.8" text-anchor="middle" fill="#222" font-weight="normal" >K562</text>
<text x="269.50" y="356.30" font-size="11" text-anchor="start" fill="#222" font-weight="normal" >MIP-1α</text>
<rect x="385.20" y="440.80" width="13.80" height="0.90" fill="#000"/>
<line x1="414.00" y1="386.30" x2="414.00" y2="365.30" stroke="#333" stroke-width="1"/>
<line x1="412.10" y1="365.30" x2="415.90" y2="365.30" stroke="#222" stroke-width="1"/>
<rect x="407.10" y="386.30" width="13.80" height="55.40" fill="#000"/>
<line x1="468.80" y1="432.20" x2="468.80" y2="426.70" stroke="#333" stroke-width="1"/>
<line x1="466.90" y1="426.70" x2="470.70" y2="426.70" stroke="#222" stroke-width="1"/>
<rect x="462.40" y="432.70" width="12.80" height="9.00" fill="#fff" stroke="#000" stroke-width="1"/>
<text x="392.10" y="450.90" font-size="6.8" text-anchor="middle" fill="#222" font-weight="normal" >–</text>
<text x="414.00" y="450.90" font-size="6.8" text-anchor="middle" fill="#222" font-weight="normal" >K562</text>
<text x="449.90" y="450.90" font-size="6.8" text-anchor="middle" fill="#222" font-weight="normal" >–</text>
<text x="468.80" y="450.90" font-size="6.8" text-anchor="middle" fill="#222" font-weight="normal" >K562</text>
<text x="378.80" y="356.30" font-size="11" text-anchor="start" fill="#222" font-weight="normal" >MIP-1<tspan font-family="Liberation Serif" font-size="12">β</tspan></text>
<text x="0.60" y="469.40" font-size="13.6" text-anchor="start" fill="#000" font-weight="bold" >D</text>
<text transform="translate(12.0,563.2) rotate(-90)" font-size="11.4" fill="#222">Positive cells (%)</text>
<line x1="33.60" y1="473.70" x2="33.60" y2="569.70" stroke="#3a3a3a" stroke-width="1"/>
<line x1="30.60" y1="473.70" x2="33.60" y2="473.70" stroke="#3a3a3a" stroke-width="1"/>
<text x="29.30" y="477.00" font-size="7.9" text-anchor="end" fill="#333" font-weight="normal" style="stroke-width:0.1px">100</text>
<line x1="30.60" y1="492.90" x2="33.60" y2="492.90" stroke="#3a3a3a" stroke-width="1"/>
<text x="29.30" y="496.20" font-size="7.9" text-anchor="end" fill="#333" font-weight="normal" style="stroke-width:0.1px">80</text>
<line x1="30.60" y1="512.10" x2="33.60" y2="512.10" stroke="#3a3a3a" stroke-width="1"/>
<text x="29.30" y="515.40" font-size="7.9" text-anchor="end" fill="#333" font-weight="normal" style="stroke-width:0.1px">60</text>
<line x1="30.60" y1="531.30" x2="33.60" y2="531.30" stroke="#3a3a3a" stroke-width="1"/>
<text x="29.30" y="534.60" font-size="7.9" text-anchor="end" fill="#333" font-weight="normal" style="stroke-width:0.1px">40</text>
<line x1="30.60" y1="550.50" x2="33.60" y2="550.50" stroke="#3a3a3a" stroke-width="1"/>
<text x="29.30" y="553.80" font-size="7.9" text-anchor="end" fill="#333" font-weight="normal" style="stroke-width:0.1px">20</text>
<line x1="30.60" y1="569.70" x2="33.60" y2="569.70" stroke="#3a3a3a" stroke-width="1"/>
<text x="29.30" y="573.00" font-size="7.9" text-anchor="end" fill="#333" font-weight="normal" style="stroke-width:0.1px">0</text>
<line x1="148.70" y1="473.70" x2="148.70" y2="569.70" stroke="#3a3a3a" stroke-width="1"/>
<line x1="145.70" y1="473.70" x2="148.70" y2="473.70" stroke="#3a3a3a" stroke-width="1"/>
<line x1="145.70" y1="492.90" x2="148.70" y2="492.90" stroke="#3a3a3a" stroke-width="1"/>
<line x1="145.70" y1="512.10" x2="148.70" y2="512.10" stroke="#3a3a3a" stroke-width="1"/>
<line x1="145.70" y1="531.30" x2="148.70" y2="531.30" stroke="#3a3a3a" stroke-width="1"/>
<line x1="145.70" y1="550.50" x2="148.70" y2="550.50" stroke="#3a3a3a" stroke-width="1"/>
<line x1="145.70" y1="569.70" x2="148.70" y2="569.70" stroke="#3a3a3a" stroke-width="1"/>
<line x1="263.70" y1="473.70" x2="263.70" y2="569.70" stroke="#3a3a3a" stroke-width="1"/>
<line x1="260.70" y1="473.70" x2="263.70" y2="473.70" stroke="#3a3a3a" stroke-width="1"/>
<line x1="260.70" y1="492.90" x2="263.70" y2="492.90" stroke="#3a3a3a" stroke-width="1"/>
<line x1="260.70" y1="512.10" x2="263.70" y2="512.10" stroke="#3a3a3a" stroke-width="1"/>
<line x1="260.70" y1="531.30" x2="263.70" y2="531.30" stroke="#3a3a3a" stroke-width="1"/>
<line x1="260.70" y1="550.50" x2="263.70" y2="550.50" stroke="#3a3a3a" stroke-width="1"/>
<line x1="260.70" y1="569.70" x2="263.70" y2="569.70" stroke="#3a3a3a" stroke-width="1"/>
<line x1="374.90" y1="473.70" x2="374.90" y2="569.70" stroke="#3a3a3a" stroke-width="1"/>
<line x1="371.90" y1="473.70" x2="374.90" y2="473.70" stroke="#3a3a3a" stroke-width="1"/>
<line x1="371.90" y1="492.90" x2="374.90" y2="492.90" stroke="#3a3a3a" stroke-width="1"/>
<line x1="371.90" y1="512.10" x2="374.90" y2="512.10" stroke="#3a3a3a" stroke-width="1"/>
<line x1="371.90" y1="531.30" x2="374.90" y2="531.30" stroke="#3a3a3a" stroke-width="1"/>
<line x1="371.90" y1="550.50" x2="374.90" y2="550.50" stroke="#3a3a3a" stroke-width="1"/>
<line x1="371.90" y1="569.70" x2="374.90" y2="569.70" stroke="#3a3a3a" stroke-width="1"/>
<line x1="33.60" y1="569.90" x2="487.50" y2="569.90" stroke="#3a3a3a" stroke-width="1"/>
<text x="38.90" y="485.60" font-size="11" text-anchor="start" fill="#222" font-weight="normal" >IFN-<tspan font-family="Liberation Serif" font-size="12">γ</tspan></text>
<text transform="translate(40.60,572.0) rotate(-90) scale(1,0.92)" font-size="6.9" text-anchor="end" fill="#222">–</text>
<rect x="43.45" y="569.00" width="5.40" height="0.70" fill="#000"/>
<text transform="translate(47.85,572.0) rotate(-90) scale(1,0.92)" font-size="6.9" text-anchor="end" fill="#222">IL-12</text>
<line x1="53.40" y1="568.00" x2="53.40" y2="566.70" stroke="#333" stroke-width="1"/>
<line x1="51.80" y1="566.70" x2="55.00" y2="566.70" stroke="#222" stroke-width="1"/>
<rect x="50.70" y="568.00" width="5.40" height="1.70" fill="#000"/>
<text transform="translate(55.10,572.0) rotate(-90) scale(1,0.92)" font-size="6.9" text-anchor="end" fill="#222">IL-15</text>
<line x1="60.65" y1="568.60" x2="60.65" y2="567.60" stroke="#333" stroke-width="1"/>
<line x1="59.05" y1="567.60" x2="62.25" y2="567.60" stroke="#222" stroke-width="1"/>
<rect x="57.95" y="568.60" width="5.40" height="1.10" fill="#000"/>
<text transform="translate(62.35,572.0) rotate(-90) scale(1,0.92)" font-size="6.9" text-anchor="end" fill="#222">IL-18</text>
<line x1="67.90" y1="551.10" x2="67.90" y2="544.10" stroke="#333" stroke-width="1"/>
<line x1="66.30" y1="544.10" x2="69.50" y2="544.10" stroke="#222" stroke-width="1"/>
<rect x="65.20" y="551.10" width="5.40" height="18.60" fill="#000"/>
<text transform="translate(69.60,572.0) rotate(-90) scale(1,0.92)" font-size="6.9" text-anchor="end" fill="#222">IL-12+IL-15</text>
<line x1="75.15" y1="534.40" x2="75.15" y2="524.70" stroke="#333" stroke-width="1"/>
<line x1="73.55" y1="524.70" x2="76.75" y2="524.70" stroke="#222" stroke-width="1"/>
<rect x="72.45" y="534.40" width="5.40" height="35.30" fill="#000"/>
<text transform="translate(76.85,572.0) rotate(-90) scale(1,0.92)" font-size="6.9" text-anchor="end" fill="#222">IL-15+IL-18</text>
<line x1="82.40" y1="514.10" x2="82.40" y2="503.50" stroke="#333" stroke-width="1"/>
<line x1="80.80" y1="503.50" x2="84.00" y2="503.50" stroke="#222" stroke-width="1"/>
<rect x="79.70" y="514.10" width="5.40" height="55.60" fill="#000"/>
<text transform="translate(84.10,572.0) rotate(-90) scale(1,0.92)" font-size="6.9" text-anchor="end" fill="#222">IL-12+IL-18</text>
<text transform="translate(96.50,572.0) rotate(-90) scale(1,0.92)" font-size="6.9" text-anchor="end" fill="#222">–</text>
<rect x="99.55" y="568.40" width="4.40" height="1.30" fill="#fff" stroke="#000" stroke-width="1"/>
<text transform="translate(103.45,572.0) rotate(-90) scale(1,0.92)" font-size="6.9" text-anchor="end" fill="#222">IL-12</text>
<line x1="108.70" y1="556.40" x2="108.70" y2="550.80" stroke="#333" stroke-width="1"/>
<line x1="107.10" y1="550.80" x2="110.30" y2="550.80" stroke="#222" stroke-width="1"/>
<rect x="106.50" y="556.90" width="4.40" height="12.80" fill="#fff" stroke="#000" stroke-width="1"/>
<text transform="translate(110.40,572.0) rotate(-90) scale(1,0.92)" font-size="6.9" text-anchor="end" fill="#222">IL-15</text>
<rect x="113.45" y="568.90" width="4.40" height="0.80" fill="#fff" stroke="#000" stroke-width="1"/>
<text transform="translate(117.35,572.0) rotate(-90) scale(1,0.92)" font-size="6.9" text-anchor="end" fill="#222">IL-18</text>
<line x1="122.60" y1="522.60" x2="122.60" y2="513.20" stroke="#333" stroke-width="1"/>
<line x1="121.00" y1="513.20" x2="124.20" y2="513.20" stroke="#222" stroke-width="1"/>
<rect x="120.40" y="523.10" width="4.40" height="46.60" fill="#fff" stroke="#000" stroke-width="1"/>
<text transform="translate(124.30,572.0) rotate(-90) scale(1,0.92)" font-size="6.9" text-anchor="end" fill="#222">IL-12+IL-15</text>
<line x1="129.55" y1="513.20" x2="129.55" y2="503.90" stroke="#333" stroke-width="1"/>
<line x1="127.95" y1="503.90" x2="131.15" y2="503.90" stroke="#222" stroke-width="1"/>
<rect x="127.35" y="513.70" width="4.40" height="56.00" fill="#fff" stroke="#000" stroke-width="1"/>
<text transform="translate(131.25,572.0) rotate(-90) scale(1,0.92)" font-size="6.9" text-anchor="end" fill="#222">IL-15+IL-18</text>
<line x1="136.50" y1="496.50" x2="136.50" y2="487.30" stroke="#333" stroke-width="1"/>
<line x1="134.90" y1="487.30" x2="138.10" y2="487.30" stroke="#222" stroke-width="1"/>
<rect x="134.30" y="497.00" width="4.40" height="72.70" fill="#fff" stroke="#000" stroke-width="1"/>
<text transform="translate(138.20,572.0) rotate(-90) scale(1,0.92)" font-size="6.9" text-anchor="end" fill="#222">IL-12+IL-18</text>
<text x="153.00" y="483.80" font-size="11" text-anchor="start" fill="#222" font-weight="normal" >TNF-α</text>
<text transform="translate(156.90,572.0) rotate(-90) scale(1,0.92)" font-size="6.9" text-anchor="end" fill="#222">–</text>
<text transform="translate(163.93,572.0) rotate(-90) scale(1,0.92)" font-size="6.9" text-anchor="end" fill="#222">IL-12</text>
<text transform="translate(170.96,572.0) rotate(-90) scale(1,0.92)" font-size="6.9" text-anchor="end" fill="#222">IL-15</text>
<text transform="translate(177.99,572.0) rotate(-90) scale(1,0.92)" font-size="6.9" text-anchor="end" fill="#222">IL-18</text>
<text transform="translate(185.02,572.0) rotate(-90) scale(1,0.92)" font-size="6.9" text-anchor="end" fill="#222">IL-12+IL-15</text>
<line x1="190.35" y1="568.00" x2="190.35" y2="563.70" stroke="#333" stroke-width="1"/>
<line x1="188.75" y1="563.70" x2="191.95" y2="563.70" stroke="#222" stroke-width="1"/>
<rect x="187.65" y="568.00" width="5.40" height="1.70" fill="#000"/>
<text transform="translate(192.05,572.0) rotate(-90) scale(1,0.92)" font-size="6.9" text-anchor="end" fill="#222">IL-15+IL-18</text>
<line x1="197.38" y1="567.00" x2="197.38" y2="560.70" stroke="#333" stroke-width="1"/>
<line x1="195.78" y1="560.70" x2="198.98" y2="560.70" stroke="#222" stroke-width="1"/>
<rect x="194.68" y="567.00" width="5.40" height="2.70" fill="#000"/>
<text transform="translate(199.08,572.0) rotate(-90) scale(1,0.92)" font-size="6.9" text-anchor="end" fill="#222">IL-12+IL-18</text>
<text transform="translate(210.60,572.0) rotate(-90) scale(1,0.92)" font-size="6.9" text-anchor="end" fill="#222">–</text>
<line x1="216.07" y1="563.00" x2="216.07" y2="562.50" stroke="#333" stroke-width="1"/>
<line x1="214.47" y1="562.50" x2="217.67" y2="562.50" stroke="#222" stroke-width="1"/>
<rect x="213.87" y="563.50" width="4.40" height="6.20" fill="#fff" stroke="#000" stroke-width="1"/>
<text transform="translate(217.77,572.0) rotate(-90) scale(1,0.92)" font-size="6.9" text-anchor="end" fill="#222">IL-12</text>
<line x1="223.24" y1="559.50" x2="223.24" y2="550.70" stroke="#333" stroke-width="1"/>
<line x1="221.64" y1="550.70" x2="224.84" y2="550.70" stroke="#222" stroke-width="1"/>
<rect x="221.04" y="560.00" width="4.40" height="9.70" fill="#fff" stroke="#000" stroke-width="1"/>
<text transform="translate(224.94,572.0) rotate(-90) scale(1,0.92)" font-size="6.9" text-anchor="end" fill="#222">IL-15</text>
<text transform="translate(232.11,572.0) rotate(-90) scale(1,0.92)" font-size="6.9" text-anchor="end" fill="#222">IL-18</text>
<line x1="237.58" y1="545.00" x2="237.58" y2="527.00" stroke="#333" stroke-width="1"/>
<line x1="235.98" y1="527.00" x2="239.18" y2="527.00" stroke="#222" stroke-width="1"/>
<rect x="235.38" y="545.50" width="4.40" height="24.20" fill="#fff" stroke="#000" stroke-width="1"/>
<text transform="translate(239.28,572.0) rotate(-90) scale(1,0.92)" font-size="6.9" text-anchor="end" fill="#222">IL-12+IL-15</text>
<line x1="244.75" y1="540.00" x2="244.75" y2="523.20" stroke="#333" stroke-width="1"/>
<line x1="243.15" y1="523.20" x2="246.35" y2="523.20" stroke="#222" stroke-width="1"/>
<rect x="242.55" y="540.50" width="4.40" height="29.20" fill="#fff" stroke="#000" stroke-width="1"/>
<text transform="translate(246.45,572.0) rotate(-90) scale(1,0.92)" font-size="6.9" text-anchor="end" fill="#222">IL-15+IL-18</text>
<line x1="251.92" y1="537.00" x2="251.92" y2="523.20" stroke="#333" stroke-width="1"/>
<line x1="250.32" y1="523.20" x2="253.52" y2="523.20" stroke="#222" stroke-width="1"/>
<rect x="249.72" y="537.50" width="4.40" height="32.20" fill="#fff" stroke="#000" stroke-width="1"/>
<text transform="translate(253.62,572.0) rotate(-90) scale(1,0.92)" font-size="6.9" text-anchor="end" fill="#222">IL-12+IL-18</text>
<text x="269.50" y="483.80" font-size="11" text-anchor="start" fill="#222" font-weight="normal" >MIP-1α</text>
<text transform="translate(271.50,572.0) rotate(-90) scale(1,0.92)" font-size="6.9" text-anchor="end" fill="#222">–</text>
<rect x="274.17" y="568.50" width="5.40" height="1.20" fill="#000"/>
<text transform="translate(278.57,572.0) rotate(-90) scale(1,0.92)" font-size="6.9" text-anchor="end" fill="#222">IL-12</text>
<text transform="translate(285.64,572.0) rotate(-90) scale(1,0.92)" font-size="6.9" text-anchor="end" fill="#222">IL-15</text>
<text transform="translate(292.71,572.0) rotate(-90) scale(1,0.92)" font-size="6.9" text-anchor="end" fill="#222">IL-18</text>
<line x1="298.08" y1="557.50" x2="298.08" y2="552.00" stroke="#333" stroke-width="1"/>
<line x1="296.48" y1="552.00" x2="299.68" y2="552.00" stroke="#222" stroke-width="1"/>
<rect x="295.38" y="557.50" width="5.40" height="12.20" fill="#000"/>
<text transform="translate(299.78,572.0) rotate(-90) scale(1,0.92)" font-size="6.9" text-anchor="end" fill="#222">IL-12+IL-15</text>
<line x1="305.15" y1="549.50" x2="305.15" y2="546.20" stroke="#333" stroke-width="1"/>
<line x1="303.55" y1="546.20" x2="306.75" y2="546.20" stroke="#222" stroke-width="1"/>
<rect x="302.45" y="549.50" width="5.40" height="20.20" fill="#000"/>
<text transform="translate(306.85,572.0) rotate(-90) scale(1,0.92)" font-size="6.9" text-anchor="end" fill="#222">IL-15+IL-18</text>
<line x1="312.22" y1="540.50" x2="312.22" y2="535.00" stroke="#333" stroke-width="1"/>
<line x1="310.62" y1="535.00" x2="313.82" y2="535.00" stroke="#222" stroke-width="1"/>
<rect x="309.52" y="540.50" width="5.40" height="29.20" fill="#000"/>
<text transform="translate(313.92,572.0) rotate(-90) scale(1,0.92)" font-size="6.9" text-anchor="end" fill="#222">IL-12+IL-18</text>
<text transform="translate(325.20,572.0) rotate(-90) scale(1,0.92)" font-size="6.9" text-anchor="end" fill="#222">–</text>
<rect x="328.50" y="567.50" width="4.40" height="2.20" fill="#fff" stroke="#000" stroke-width="1"/>
<text transform="translate(332.40,572.0) rotate(-90) scale(1,0.92)" font-size="6.9" text-anchor="end" fill="#222">IL-12</text>
<line x1="337.90" y1="561.20" x2="337.90" y2="560.50" stroke="#333" stroke-width="1"/>
<line x1="336.30" y1="560.50" x2="339.50" y2="560.50" stroke="#222" stroke-width="1"/>
<rect x="335.70" y="561.70" width="4.40" height="8.00" fill="#fff" stroke="#000" stroke-width="1"/>
<text transform="translate(339.60,572.0) rotate(-90) scale(1,0.92)" font-size="6.9" text-anchor="end" fill="#222">IL-15</text>
<text transform="translate(346.80,572.0) rotate(-90) scale(1,0.92)" font-size="6.9" text-anchor="end" fill="#222">IL-18</text>
<line x1="352.30" y1="551.20" x2="352.30" y2="545.50" stroke="#333" stroke-width="1"/>
<line x1="350.70" y1="545.50" x2="353.90" y2="545.50" stroke="#222" stroke-width="1"/>
<rect x="350.10" y="551.70" width="4.40" height="18.00" fill="#fff" stroke="#000" stroke-width="1"/>
<text transform="translate(354.00,572.0) rotate(-90) scale(1,0.92)" font-size="6.9" text-anchor="end" fill="#222">IL-12+IL-15</text>
<line x1="359.50" y1="542.50" x2="359.50" y2="540.00" stroke="#333" stroke-width="1"/>
<line x1="357.90" y1="540.00" x2="361.10" y2="540.00" stroke="#222" stroke-width="1"/>
<rect x="357.30" y="543.00" width="4.40" height="26.70" fill="#fff" stroke="#000" stroke-width="1"/>
<text transform="translate(361.20,572.0) rotate(-90) scale(1,0.92)" font-size="6.9" text-anchor="end" fill="#222">IL-15+IL-18</text>
<line x1="366.70" y1="548.20" x2="366.70" y2="544.20" stroke="#333" stroke-width="1"/>
<line x1="365.10" y1="544.20" x2="368.30" y2="544.20" stroke="#222" stroke-width="1"/>
<rect x="364.50" y="548.70" width="4.40" height="21.00" fill="#fff" stroke="#000" stroke-width="1"/>
<text transform="translate(368.40,572.0) rotate(-90) scale(1,0.92)" font-size="6.9" text-anchor="end" fill="#222">IL-12+IL-18</text>
<text x="378.80" y="483.80" font-size="11" text-anchor="start" fill="#222" font-weight="normal" >MIP-1<tspan font-family="Liberation Serif" font-size="12">β</tspan></text>
<text transform="translate(382.60,572.0) rotate(-90) scale(1,0.92)" font-size="6.9" text-anchor="end" fill="#222">–</text>
<rect x="385.25" y="568.70" width="5.40" height="1.00" fill="#000"/>
<text transform="translate(389.65,572.0) rotate(-90) scale(1,0.92)" font-size="6.9" text-anchor="end" fill="#222">IL-12</text>
<line x1="395.00" y1="545.00" x2="395.00" y2="525.50" stroke="#333" stroke-width="1"/>
<line x1="393.40" y1="525.50" x2="396.60" y2="525.50" stroke="#222" stroke-width="1"/>
<rect x="392.30" y="545.00" width="5.40" height="24.70" fill="#000"/>
<text transform="translate(396.70,572.0) rotate(-90) scale(1,0.92)" font-size="6.9" text-anchor="end" fill="#222">IL-15</text>
<text transform="translate(403.75,572.0) rotate(-90) scale(1,0.92)" font-size="6.9" text-anchor="end" fill="#222">IL-18</text>
<line x1="409.10" y1="541.20" x2="409.10" y2="519.20" stroke="#333" stroke-width="1"/>
<line x1="407.50" y1="519.20" x2="410.70" y2="519.20" stroke="#222" stroke-width="1"/>
<rect x="406.40" y="541.20" width="5.40" height="28.50" fill="#000"/>
<text transform="translate(410.80,572.0) rotate(-90) scale(1,0.92)" font-size="6.9" text-anchor="end" fill="#222">IL-12+IL-15</text>
<line x1="416.15" y1="523.70" x2="416.15" y2="503.70" stroke="#333" stroke-width="1"/>
<line x1="414.55" y1="503.70" x2="417.75" y2="503.70" stroke="#222" stroke-width="1"/>
<rect x="413.45" y="523.70" width="5.40" height="46.00" fill="#000"/>
<text transform="translate(417.85,572.0) rotate(-90) scale(1,0.92)" font-size="6.9" text-anchor="end" fill="#222">IL-15+IL-18</text>
<line x1="423.20" y1="496.20" x2="423.20" y2="488.00" stroke="#333" stroke-width="1"/>
<line x1="421.60" y1="488.00" x2="424.80" y2="488.00" stroke="#222" stroke-width="1"/>
<rect x="420.50" y="496.20" width="5.40" height="73.50" fill="#000"/>
<text transform="translate(424.90,572.0) rotate(-90) scale(1,0.92)" font-size="6.9" text-anchor="end" fill="#222">IL-12+IL-18</text>
<text transform="translate(436.70,572.0) rotate(-90) scale(1,0.92)" font-size="6.9" text-anchor="end" fill="#222">–</text>
<line x1="442.00" y1="565.50" x2="442.00" y2="563.20" stroke="#333" stroke-width="1"/>
<line x1="440.40" y1="563.20" x2="443.60" y2="563.20" stroke="#222" stroke-width="1"/>
<rect x="439.80" y="566.00" width="4.40" height="3.70" fill="#fff" stroke="#000" stroke-width="1"/>
<text transform="translate(443.70,572.0) rotate(-90) scale(1,0.92)" font-size="6.9" text-anchor="end" fill="#222">IL-12</text>
<line x1="449.00" y1="559.50" x2="449.00" y2="550.50" stroke="#333" stroke-width="1"/>
<line x1="447.40" y1="550.50" x2="450.60" y2="550.50" stroke="#222" stroke-width="1"/>
<rect x="446.80" y="560.00" width="4.40" height="9.70" fill="#fff" stroke="#000" stroke-width="1"/>
<text transform="translate(450.70,572.0) rotate(-90) scale(1,0.92)" font-size="6.9" text-anchor="end" fill="#222">IL-15</text>
<text transform="translate(457.70,572.0) rotate(-90) scale(1,0.92)" font-size="6.9" text-anchor="end" fill="#222">IL-18</text>
<line x1="463.00" y1="552.50" x2="463.00" y2="541.20" stroke="#333" stroke-width="1"/>
<line x1="461.40" y1="541.20" x2="464.60" y2="541.20" stroke="#222" stroke-width="1"/>
<rect x="460.80" y="553.00" width="4.40" height="16.70" fill="#fff" stroke="#000" stroke-width="1"/>
<text transform="translate(464.70,572.0) rotate(-90) scale(1,0.92)" font-size="6.9" text-anchor="end" fill="#222">IL-12+IL-15</text>
<line x1="470.00" y1="541.20" x2="470.00" y2="530.00" stroke="#333" stroke-width="1"/>
<line x1="468.40" y1="530.00" x2="471.60" y2="530.00" stroke="#222" stroke-width="1"/>
<rect x="467.80" y="541.70" width="4.40" height="28.00" fill="#fff" stroke="#000" stroke-width="1"/>
<text transform="translate(471.70,572.0) rotate(-90) scale(1,0.92)" font-size="6.9" text-anchor="end" fill="#222">IL-15+IL-18</text>
<line x1="477.00" y1="541.20" x2="477.00" y2="532.50" stroke="#333" stroke-width="1"/>
<line x1="475.40" y1="532.50" x2="478.60" y2="532.50" stroke="#222" stroke-width="1"/>
<rect x="474.80" y="541.70" width="4.40" height="28.00" fill="#fff" stroke="#000" stroke-width="1"/>
<text transform="translate(478.70,572.0) rotate(-90) scale(1,0.92)" font-size="6.9" text-anchor="end" fill="#222">IL-12+IL-18</text>
</svg>
</body></html>
